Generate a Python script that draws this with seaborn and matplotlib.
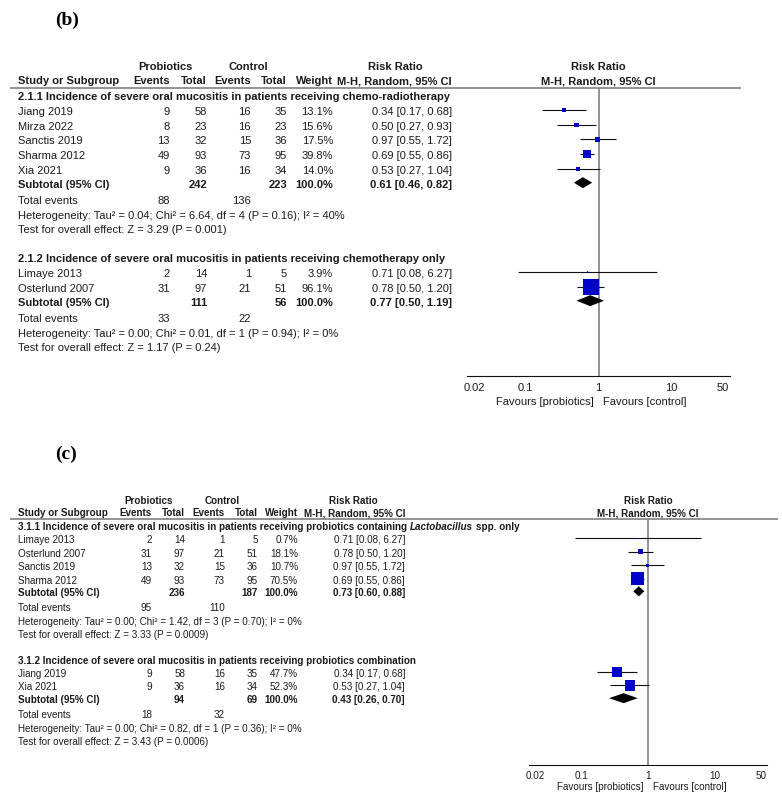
import numpy as np
import pandas as pd
import matplotlib
matplotlib.use("Agg")
import matplotlib.pyplot as plt
import matplotlib.ticker as mticker
import seaborn as sns

# ---------------- panel (b) ----------------
B1_TITLE = [("2.1.1 Incidence of severe oral mucositis in patients receiving chemo-radiotherapy", "normal")]
B1_STUDY = ["Jiang 2019", "Mirza 2022", "Sanctis 2019", "Sharma 2012", "Xia 2021"]
B1_PRO_EV = [9, 8, 13, 49, 9]
B1_PRO_N = [58, 23, 32, 93, 36]
B1_CTL_EV = [16, 16, 15, 73, 16]
B1_CTL_N = [35, 23, 36, 95, 34]
B1_WEIGHT = [13.1, 15.6, 17.5, 39.8, 14.0]
B1_RR = [0.34, 0.50, 0.97, 0.69, 0.53]
B1_LO = [0.17, 0.27, 0.55, 0.55, 0.27]
B1_HI = [0.68, 0.93, 1.72, 0.86, 1.04]
B1_SUB = [0.61, 0.46, 0.82]
B1_HET = "Heterogeneity: Tau\u00b2 = 0.04; Chi\u00b2 = 6.64, df = 4 (P = 0.16); I\u00b2 = 40%"
B1_TEST = "Test for overall effect: Z = 3.29 (P = 0.001)"

B2_TITLE = [("2.1.2 Incidence of severe oral mucositis in patients receiving chemotherapy only", "normal")]
B2_STUDY = ["Limaye 2013", "Osterlund 2007"]
B2_PRO_EV = [2, 31]
B2_PRO_N = [14, 97]
B2_CTL_EV = [1, 21]
B2_CTL_N = [5, 51]
B2_WEIGHT = [3.9, 96.1]
B2_RR = [0.71, 0.78]
B2_LO = [0.08, 0.50]
B2_HI = [6.27, 1.20]
B2_SUB = [0.77, 0.50, 1.19]
B2_HET = "Heterogeneity: Tau\u00b2 = 0.00; Chi\u00b2 = 0.01, df = 1 (P = 0.94); I\u00b2 = 0%"
B2_TEST = "Test for overall effect: Z = 1.17 (P = 0.24)"

# ---------------- panel (c) ----------------
C1_TITLE = [("3.1.1 Incidence of severe oral mucositis in patients receiving probiotics containing", "normal"),
            ("Lactobacillus", "italic"), ("spp. only", "normal")]
C1_STUDY = ["Limaye 2013", "Osterlund 2007", "Sanctis 2019", "Sharma 2012"]
C1_PRO_EV = [2, 31, 13, 49]
C1_PRO_N = [14, 97, 32, 93]
C1_CTL_EV = [1, 21, 15, 73]
C1_CTL_N = [5, 51, 36, 95]
C1_WEIGHT = [0.7, 18.1, 10.7, 70.5]
C1_RR = [0.71, 0.78, 0.97, 0.69]
C1_LO = [0.08, 0.50, 0.55, 0.55]
C1_HI = [6.27, 1.20, 1.72, 0.86]
C1_SUB = [0.73, 0.60, 0.88]
C1_HET = "Heterogeneity: Tau\u00b2 = 0.00; Chi\u00b2 = 1.42, df = 3 (P = 0.70); I\u00b2 = 0%"
C1_TEST = "Test for overall effect: Z = 3.33 (P = 0.0009)"

C2_TITLE = [("3.1.2 Incidence of severe oral mucositis in patients receiving probiotics combination", "normal")]
C2_STUDY = ["Jiang 2019", "Xia 2021"]
C2_PRO_EV = [9, 9]
C2_PRO_N = [58, 36]
C2_CTL_EV = [16, 16]
C2_CTL_N = [35, 34]
C2_WEIGHT = [47.7, 52.3]
C2_RR = [0.34, 0.53]
C2_LO = [0.17, 0.27]
C2_HI = [0.68, 1.04]
C2_SUB = [0.43, 0.26, 0.70]
C2_HET = "Heterogeneity: Tau\u00b2 = 0.00; Chi\u00b2 = 0.82, df = 1 (P = 0.36); I\u00b2 = 0%"
C2_TEST = "Test for overall effect: Z = 3.43 (P = 0.0006)"

TICKS = [0.02, 0.1, 1, 10, 50]
TICK_LABELS = ["0.02", "0.1", "1", "10", "50"]

W, H, DPI = 782, 802, 100
TEXT = "#1a1a1a"
BLUE = "#0000c8"
GRAY = "#808080"

# layout (pixels)
L_B = dict(label="(b)", label_xy=(67, 20), fs=8.0, x_study=18, x_ev1=170, x_n1=207, x_ev2=251, x_n2=287,
           x_w=333, x_rr=452, x_pro=165, x_ctl=248, x_rrhead=395, y_head1=66.5, y_head2=81,
           line_y=88, line_x=(10, 741), ax_x=(467, 730), ax_y=(88, 376), dec=1.8,
           y0=95.5, s=14.65, tot_gap=16.5, sec_gap=29, dy=2.0, dia_h=11, tick_pad=2.0, fav_off=-19)
L_C = dict(label="(c)", label_xy=(66, 454), fs=7.1, x_study=18, x_ev1=152, x_n1=185, x_ev2=225, x_n2=258,
           x_w=298, x_rr=405, x_pro=149, x_ctl=222, x_rrhead=353, y_head1=501, y_head2=513.5,
           line_y=519, line_x=(10, 778), ax_x=(529, 767), ax_y=(519, 765), dec=1.79,
           y0=525, s=13.4, tot_gap=15, sec_gap=25.5, dy=2.0, dia_h=10, tick_pad=1.5, fav_off=-16)


def make_group(title, study, pev, pn, cev, cn, w, rr, lo, hi, sub, het, test):
    return dict(title=title, study=study, pev=pev, pn=pn, cev=cev, cn=cn, w=w,
                rr=rr, lo=lo, hi=hi, sub=sub, het=het, test=test)


def row_positions(groups, L):
    y = L["y0"]
    rows = []
    for g in groups:
        n = len(g["study"])
        r = {"head": y, "study": [y + L["s"] * (i + 1) for i in range(n)]}
        r["sub"] = y + L["s"] * (n + 0.95)
        r["tot"] = r["sub"] + L["tot_gap"]
        r["het"] = r["tot"] + L["s"]
        r["test"] = r["het"] + L["s"]
        rows.append(r)
        y = r["test"] + L["sec_gap"]
    return rows


def put(tx, L, x, y, s, ha="left", bold=False):
    tx.text(x, y + L["dy"], s, ha=ha, va="center", fontsize=L["fs"], color=TEXT,
            fontweight="bold" if bold else "normal")


def put_title(tx, L, y, segments):
    t = None
    for s, style in segments:
        if t is None:
            t = tx.text(L["x_study"], y + L["dy"], s, ha="left", va="center", fontsize=L["fs"],
                        color=TEXT, fontweight="bold", fontstyle=style)
        else:
            t = tx.annotate(s, xy=(1, 0.5), xycoords=t, xytext=(L["fs"] * 0.28, 0),
                            textcoords="offset points", ha="left", va="center", fontsize=L["fs"],
                            color=TEXT, fontweight="bold", fontstyle=style)


def draw_panel(fig, tx, L, groups):
    rows = row_positions(groups, L)
    fs = L["fs"]
    lx, ly = L["label_xy"]
    tx.text(lx, ly, L["label"], ha="center", va="center", fontsize=14, fontweight="bold",
            family=["Liberation Serif", "DejaVu Serif"], color="black")

    x0, x1 = L["ax_x"]
    x_one = (x0 + x1) / 2

    # header
    put(tx, L, L["x_pro"], L["y_head1"] - L["dy"], "Probiotics", ha="center", bold=True)
    put(tx, L, L["x_ctl"], L["y_head1"] - L["dy"], "Control", ha="center", bold=True)
    put(tx, L, L["x_rrhead"], L["y_head1"] - L["dy"], "Risk Ratio", ha="center", bold=True)
    put(tx, L, x_one, L["y_head1"] - L["dy"], "Risk Ratio", ha="center", bold=True)
    y2 = L["y_head2"] - L["dy"]
    put(tx, L, L["x_study"], y2, "Study or Subgroup", bold=True)
    put(tx, L, L["x_ev1"], y2, "Events", ha="right", bold=True)
    put(tx, L, L["x_n1"], y2, "Total", ha="right", bold=True)
    put(tx, L, L["x_ev2"], y2, "Events", ha="right", bold=True)
    put(tx, L, L["x_n2"], y2, "Total", ha="right", bold=True)
    put(tx, L, L["x_w"], y2, "Weight", ha="right", bold=True)
    put(tx, L, L["x_rr"], y2, "M-H, Random, 95% CI", ha="right", bold=True)
    put(tx, L, x_one, y2, "M-H, Random, 95% CI", ha="center", bold=True)
    tx.plot(L["line_x"], [L["line_y"], L["line_y"]], color=GRAY, lw=1.2, solid_capstyle="butt")

    # table rows
    for g, r in zip(groups, rows):
        put_title(tx, L, r["head"], g["title"])
        for i, y in enumerate(r["study"]):
            put(tx, L, L["x_study"], y, g["study"][i])
            put(tx, L, L["x_ev1"], y, str(g["pev"][i]), ha="right")
            put(tx, L, L["x_n1"], y, str(g["pn"][i]), ha="right")
            put(tx, L, L["x_ev2"], y, str(g["cev"][i]), ha="right")
            put(tx, L, L["x_n2"], y, str(g["cn"][i]), ha="right")
            put(tx, L, L["x_w"], y, f"{g['w'][i]:.1f}%", ha="right")
            put(tx, L, L["x_rr"], y, f"{g['rr'][i]:.2f} [{g['lo'][i]:.2f}, {g['hi'][i]:.2f}]", ha="right")
        y = r["sub"]
        est, lo, hi = g["sub"]
        put(tx, L, L["x_study"], y, "Subtotal (95% CI)", bold=True)
        put(tx, L, L["x_n1"], y, str(sum(g["pn"])), ha="right", bold=True)
        put(tx, L, L["x_n2"], y, str(sum(g["cn"])), ha="right", bold=True)
        put(tx, L, L["x_w"], y, f"{sum(g['w']):.1f}%", ha="right", bold=True)
        put(tx, L, L["x_rr"], y, f"{est:.2f} [{lo:.2f}, {hi:.2f}]", ha="right", bold=True)
        put(tx, L, L["x_study"], r["tot"], "Total events")
        put(tx, L, L["x_ev1"], r["tot"], str(sum(g["pev"])), ha="right")
        put(tx, L, L["x_ev2"], r["tot"], str(sum(g["cev"])), ha="right")
        put(tx, L, L["x_study"], r["het"], g["het"])
        put(tx, L, L["x_study"], r["test"], g["test"])

    # forest plot
    y0, y1 = L["ax_y"]
    fa = fig.add_axes([x0 / W, 1 - y1 / H, (x1 - x0) / W, (y1 - y0) / H])
    fa.patch.set_visible(False)
    fa.set_xscale("log")
    frames = []
    for g, r in zip(groups, rows):
        frames.append(pd.DataFrame({"rr": g["rr"], "lo": g["lo"], "hi": g["hi"],
                                    "w": g["w"], "y": r["study"]}))
        est, lo, hi = g["sub"]
        yc, h = r["sub"], L["dia_h"]
        fa.fill([lo, est, hi, est], [yc, yc - h / 2, yc, yc + h / 2], color="black", lw=0, zorder=3)
    st = pd.concat(frames, ignore_index=True)
    side_pt = np.maximum(1.5, 0.55 * st["w"] ** 0.74) * 72 / DPI
    st["area"] = side_pt ** 2
    fa.hlines(st["y"], st["lo"], st["hi"], color="#111111", lw=0.8, zorder=2)
    sns.scatterplot(data=st, x="rr", y="y", size="area", sizes={a: a for a in st["area"]},
                    marker="s", color=BLUE, linewidth=0, legend=False, ax=fa, zorder=4)
    fa.axvline(1, color=GRAY, lw=1.2, zorder=1)
    fa.set_xlim(10 ** -L["dec"], 10 ** L["dec"])
    fa.set_ylim(y1, y0)
    fa.set_xticks(TICKS)
    fa.set_xticklabels(TICK_LABELS)
    fa.xaxis.set_minor_locator(mticker.NullLocator())
    fa.set_yticks([])
    fa.set_xlabel("")
    fa.set_ylabel("")
    for side in ["top", "left", "right"]:
        fa.spines[side].set_visible(False)
    fa.spines["bottom"].set_color("#111111")
    fa.spines["bottom"].set_linewidth(0.8)
    fa.tick_params(axis="x", direction="inout", length=6, width=0.8, color="#111111",
                   labelsize=fs, labelcolor=TEXT, pad=L["tick_pad"])
    fa.annotate("Favours [probiotics]", xy=(1, 0), xycoords=("data", "axes fraction"),
                xytext=(-3.5, L["fav_off"]), textcoords="offset points", ha="right", va="center",
                fontsize=fs, color=TEXT)
    fa.annotate("Favours [control]", xy=(1, 0), xycoords=("data", "axes fraction"),
                xytext=(3.5, L["fav_off"]), textcoords="offset points", ha="left", va="center",
                fontsize=fs, color=TEXT)


sns.set_style("white")
plt.rcParams["font.family"] = ["Liberation Sans", "DejaVu Sans"]

panel_b = [
    make_group(B1_TITLE, B1_STUDY, B1_PRO_EV, B1_PRO_N, B1_CTL_EV, B1_CTL_N, B1_WEIGHT,
               B1_RR, B1_LO, B1_HI, B1_SUB, B1_HET, B1_TEST),
    make_group(B2_TITLE, B2_STUDY, B2_PRO_EV, B2_PRO_N, B2_CTL_EV, B2_CTL_N, B2_WEIGHT,
               B2_RR, B2_LO, B2_HI, B2_SUB, B2_HET, B2_TEST),
]
panel_c = [
    make_group(C1_TITLE, C1_STUDY, C1_PRO_EV, C1_PRO_N, C1_CTL_EV, C1_CTL_N, C1_WEIGHT,
               C1_RR, C1_LO, C1_HI, C1_SUB, C1_HET, C1_TEST),
    make_group(C2_TITLE, C2_STUDY, C2_PRO_EV, C2_PRO_N, C2_CTL_EV, C2_CTL_N, C2_WEIGHT,
               C2_RR, C2_LO, C2_HI, C2_SUB, C2_HET, C2_TEST),
]

fig = plt.figure(figsize=(W / DPI, H / DPI), dpi=DPI)
tx = fig.add_axes([0, 0, 1, 1])
tx.set_xlim(0, W)
tx.set_ylim(H, 0)
tx.axis("off")

draw_panel(fig, tx, L_B, panel_b)
draw_panel(fig, tx, L_C, panel_c)

fig.savefig("out.png", dpi=DPI)
